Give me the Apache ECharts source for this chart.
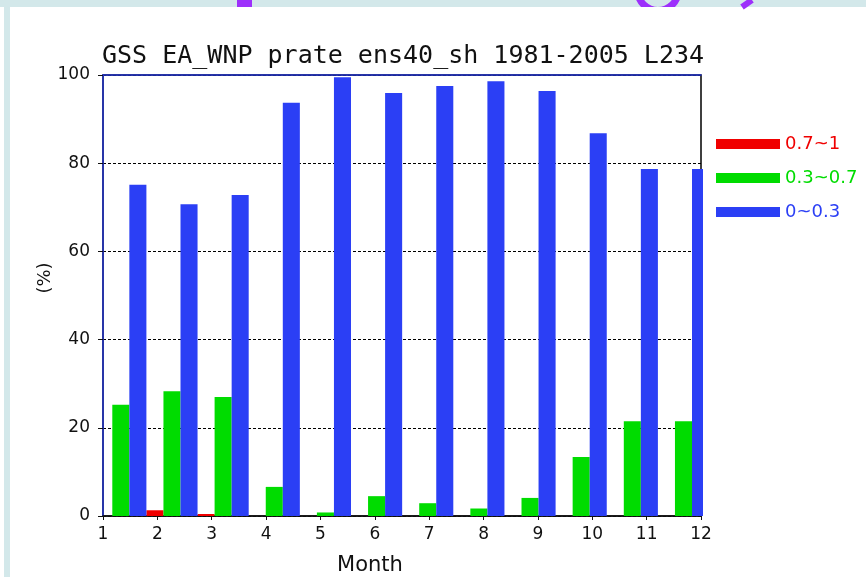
<!DOCTYPE html>
<html>
<head>
<meta charset="utf-8">
<script src="https://cdn.jsdelivr.net/npm/echarts@6/dist/echarts.min.js"></script>
<style>
  html, body { margin: 0; padding: 0; background: #fff; }
  #chart { width: 866px; height: 577px; }
</style>
</head>
<body>
<div id="chart"></div>
<script>
// month groups and the three class shares (%)
const months = ['1', '2', '3', '4', '5', '6', '7', '8', '9', '10', '11', '12'];
const classNames = ['0.7~1', '0.3~0.7', '0~0.3'];
const high = [0, 1.3, 0.45, 0, 0, 0, 0, 0, 0, 0, 0, 0];
const mid = [25.2, 28.3, 27.0, 6.6, 0.8, 4.5, 2.9, 1.7, 4.1, 13.4, 21.5, 21.5];
const low = [75.1, 70.7, 72.8, 93.7, 99.5, 95.9, 97.5, 98.6, 96.4, 86.8, 78.7, 78.7];
const yTicks = [0, 20, 40, 60, 80, 100];

const colors = ['#f00000', '#00dc00', '#2b3ff5'];
const numFont = '"DejaVu Sans", sans-serif';
const purple = '#9d30fb';

const chart = echarts.init(document.getElementById('chart'));

chart.setOption({
  backgroundColor: '#fff',
  animation: false,
  legend: {
    orient: 'vertical',
    left: 716,
    top: 134,
    padding: 0,
    itemWidth: 64,
    itemHeight: 10,
    itemGap: 14,
    icon: 'rect',
    selectedMode: false,
    data: classNames.map((n, i) => ({
      name: n,
      textStyle: { color: colors[i] }
    })),
    textStyle: { fontFamily: numFont, fontSize: 18, lineHeight: 20 }
  },
  grid: [
    { left: 103, top: 75, width: 598, height: 441, show: true, borderColor: '#000', borderWidth: 1.5 },
    { left: 95.25, top: 75, width: 613.8, height: 441 }
  ],
  xAxis: [
    {
      gridIndex: 0, type: 'value', min: 1, max: 12, interval: 1,
      axisLine: { lineStyle: { color: '#111', width: 1.5 } },
      axisTick: { length: 4, lineStyle: { color: '#111' } },
      axisLabel: { margin: 10, fontSize: 17, color: '#111', fontFamily: numFont },
      splitLine: { show: false }
    },
    {
      gridIndex: 0, type: 'value', min: 1, max: 12, position: 'top',
      axisLine: { lineStyle: { color: '#2233cc', width: 1.5 } },
      axisTick: { show: false }, axisLabel: { show: false }, splitLine: { show: false }
    },
    {
      gridIndex: 1, type: 'category', data: months, show: false
    }
  ],
  yAxis: [
    {
      gridIndex: 0, type: 'value', min: 0, max: 100, interval: 20,
      axisLine: { show: true, lineStyle: { color: '#2233cc', width: 1.5 } },
      axisTick: { show: true, length: 5, lineStyle: { color: '#111' } },
      axisLabel: {
        margin: 13, fontSize: 17, color: '#111', fontFamily: numFont,
        formatter: v => (yTicks.includes(v) ? String(v) : '')
      },
      splitLine: { lineStyle: { color: '#000', type: [3, 2], width: 1.2 } }
    },
    { gridIndex: 1, type: 'value', min: 0, max: 100, show: false, splitLine: { show: false } }
  ],
  series: [high, mid, low].map((vals, i) => ({
    name: classNames[i],
    type: 'bar',
    xAxisIndex: 2,
    yAxisIndex: 1,
    data: vals,
    barGap: '0%',
    barCategoryGap: '0%',
    itemStyle: { color: colors[i] }
  })),
  graphic: [
    // page background strips
    { type: 'rect', shape: { x: 0, y: 0, width: 866, height: 7 }, style: { fill: '#d3e8ea' }, z: 1 },
    { type: 'rect', shape: { x: 4, y: 0, width: 6, height: 577 }, style: { fill: '#d3e8ea' }, z: 1 },
    // cut-off heading fragments
    { type: 'rect', shape: { x: 237, y: 0, width: 15, height: 7 }, style: { fill: purple }, z: 2 },
    { type: 'ring', shape: { cx: 658, cy: -10, r: 24, r0: 17 }, style: { fill: purple }, z: 2 },
    { type: 'rect', shape: { x: 620, y: 7, width: 80, height: 25 }, style: { fill: '#fff' }, z: 3 },
    { type: 'line', shape: { x1: 752, y1: 0, x2: 742, y2: 7 }, style: { stroke: purple, lineWidth: 6 }, z: 2 },
    // hide bar overflow past the right frame
    { type: 'rect', shape: { x: 703, y: 60, width: 10, height: 458 }, style: { fill: '#fff' }, z: 100 },
    {
      type: 'text', x: 102, y: 56,
      style: { text: 'GSS EA_WNP prate ens40_sh 1981-2005 L234', font: '25px "DejaVu Sans Mono"', fill: '#111', align: 'left', verticalAlign: 'middle' }
    },
    {
      type: 'text', x: 370, y: 566,
      style: { text: 'Month', font: '21px "DejaVu Sans"', fill: '#111', align: 'center', verticalAlign: 'middle' }
    },
    {
      type: 'text', x: 45, y: 278, rotation: Math.PI / 2,
      style: { text: '(%)', font: '18px "DejaVu Sans"', fill: '#111', align: 'center', verticalAlign: 'middle' }
    }
  ]
});
</script>
</body>
</html>
